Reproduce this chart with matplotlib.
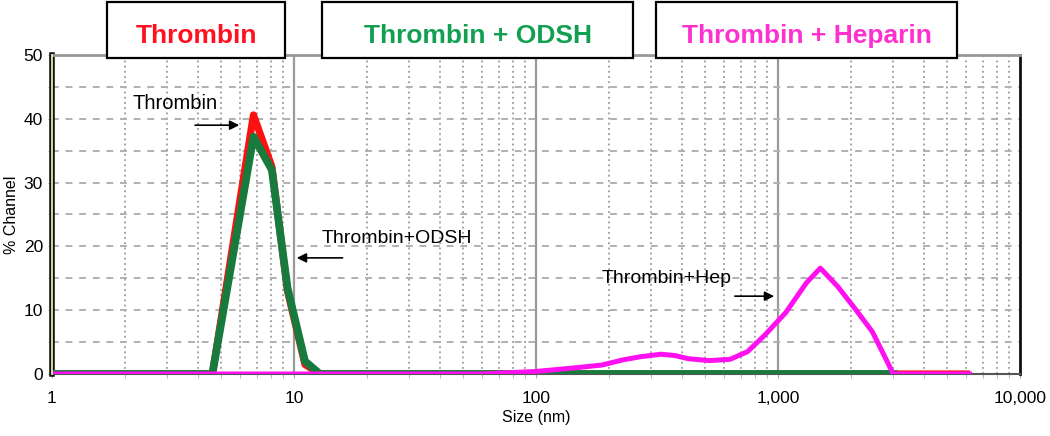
import matplotlib.pyplot as plt
from matplotlib.patches import Rectangle
from matplotlib.ticker import FixedLocator, NullFormatter
import numpy as np

plt.rcParams['font.family'] = ['Liberation Sans', 'DejaVu Sans']

# size (nm) and % channel
thr_size = [1, 4.6, 6.8, 8.1, 9.4, 11.1, 12.8, 20, 6000]
thr_val = [0, 0, 40.6, 32.5, 13.0, 1.5, 0, 0, 0]

odsh_size = [1, 4.6, 6.8, 8.1, 9.4, 11.1, 12.8, 20, 3000]
odsh_val = [0, 0, 37.2, 32.0, 13.5, 2.0, 0, 0, 0]

hep_size = [1, 60, 100, 139, 187, 228, 269, 328, 374, 426, 520, 634, 748,
            882, 1075, 1311, 1496, 1766, 2085, 2456, 2997, 6186]
hep_val = [0, 0, 0.4, 0.9, 1.4, 2.2, 2.7, 3.1, 2.9, 2.4, 2.1, 2.3, 3.5,
           6.1, 9.6, 14.3, 16.6, 13.7, 10.2, 6.6, 0, 0]

x_ticks = [1, 10, 100, 1000, 10000]
x_labels = ['1', '10', '100', '1,000', '10,000']
y_ticks = [0, 10, 20, 30, 40, 50]

headers = ['Thrombin', 'Thrombin + ODSH', 'Thrombin + Heparin']
header_colors = ['#ff1020', '#10a050', '#ff30d0']

fig = plt.figure(figsize=(10.5, 4.36), dpi=100)
ax = fig.add_axes([52/1050, 1-374/436, (1020-52)/1050, (374-55)/436])

ax.set_xscale('log')
ax.set_xlim(1, 10000)
ax.set_ylim(0, 50)

# grid
minor = [m * 10**d for d in range(4) for m in range(2, 10)]
for v in minor:
    ax.axvline(v, color='#8a8a8a', lw=1.1, ls=(0, (1.2, 2.2)), zorder=1)
for v in [10, 100, 1000]:
    ax.axvline(v, color='#9a9a9a', lw=1.6, zorder=1)
for v in range(5, 50, 5):
    ax.axhline(v, color='#b0b0b0', lw=1.4, ls=(0, (3.5, 3.5)), zorder=1)

ax.plot(thr_size, thr_val, color='#ff1010', lw=5.2, solid_joinstyle='round', zorder=3)
ax.plot(odsh_size, odsh_val, color='#197a3e', lw=5.6, solid_joinstyle='round', zorder=4)
ax.plot(hep_size, hep_val, color='#ff10f0', lw=3.6, solid_joinstyle='round', zorder=5)

ax.xaxis.set_major_locator(FixedLocator(x_ticks))
ax.set_xticklabels(x_labels)
ax.xaxis.set_minor_formatter(NullFormatter())
ax.set_yticks(y_ticks)
ax.set_yticks(range(5, 50, 10), minor=True)
ax.tick_params(axis='both', which='both', length=3, color='#aaaaaa', labelsize=12.5)
ax.tick_params(axis='x', pad=9)

ax.set_xlabel('Size (nm)', fontsize=11.5, labelpad=3)
ax.set_ylabel('% Channel', fontsize=11.5, labelpad=3)

ax.spines['top'].set_color('#999999')
ax.spines['top'].set_linewidth(2)
ax.spines['right'].set_color('#111111')
ax.spines['right'].set_linewidth(2)
ax.spines['bottom'].set_color('#555555')
ax.spines['bottom'].set_linewidth(1.5)
ax.spines['left'].set_color('#111111')
ax.spines['left'].set_linewidth(4)
ax.plot([0, 0], [0, 1], transform=ax.transAxes, color='#e8e8b0', lw=1.3,
        clip_on=False, zorder=10)

# annotations
arrow = dict(arrowstyle='-|>', color='black', lw=1.2, mutation_scale=14)
ax.annotate('', xy=(6.1, 39.0), xytext=(3.8, 39.0), arrowprops=arrow)
ax.text(2.15, 42.4, 'Thrombin', fontsize=14.5, ha='left', va='center')
ax.annotate('', xy=(10.0, 18.2), xytext=(16.3, 18.2), arrowprops=arrow)
ax.text(13.0, 21.2, 'Thrombin+ODSH', fontsize=14, ha='left', va='center')
ax.annotate('', xy=(990, 12.2), xytext=(646, 12.2), arrowprops=arrow)
ax.text(187, 15.0, 'Thrombin+Hep', fontsize=14, ha='left', va='center')

# header boxes
boxes = [(107, 285), (322, 633), (656, 957)]
for (x0, x1), txt, c in zip(boxes, headers, header_colors):
    fig.patches.append(Rectangle((x0/1050, 1-58/436), (x1-x0)/1050, 56/436,
                                 transform=fig.transFigure, facecolor='white',
                                 edgecolor='black', lw=1.6, zorder=20))
    fig.text((x0+x1)/2/1050, 1-36/436, txt, color=c, fontsize=19, fontweight='bold',
             ha='center', va='center', zorder=21)

fig.savefig('out.png', dpi=100)
